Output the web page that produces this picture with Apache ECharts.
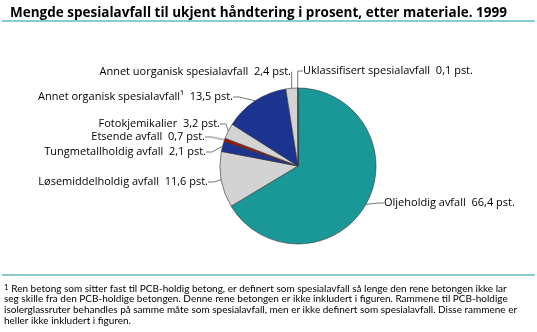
<!DOCTYPE html>
<html><head><meta charset="utf-8">
<script src="https://cdn.jsdelivr.net/npm/echarts@6/dist/echarts.min.js"></script>
<style>html,body{margin:0;padding:0;background:#fff}#c{width:537px;height:332px}</style>
</head><body><div id="c"></div>
<script>
const categories = ["Oljeholdig avfall","Løsemiddelholdig avfall","Tungmetallholdig avfall","Etsende avfall","Fotokjemikalier","Annet organisk spesialavfall¹","Annet uorganisk spesialavfall","Uklassifisert spesialavfall"];
const values = [66.4, 11.6, 2.1, 0.7, 3.2, 13.5, 2.4, 0.1];
const valueLabels = ["66,4","11,6","2,1","0,7","3,2","13,5","2,4","0,1"];
const colors = ["#1a9797","#d3d3d3","#1c3390","#a3140f","#d3d3d3","#1c3390","#d3d3d3","#d3d3d3"];
// label anchor positions (layout only)
const labelPos = [[384,203,'left'],[208,182,'right'],[206,152,'right'],[205,137,'right'],[220,124,'right'],[233,97,'right'],[291,72,'right'],[303,71,'left']];

const FONT = '"Open Sans", sans-serif';
const FFONT = 'Lato, sans-serif';
const chart = echarts.init(document.getElementById('c'), null, {renderer:'canvas'});
chart.setOption({
  animation:false,
  title:{text:'Mengde spesialavfall til ukjent håndtering i prosent, etter materiale. 1999', left:5, top:1,
    textStyle:{fontFamily:FONT,fontSize:13.5,fontWeight:'bold',color:'#000'}},
  graphic:[
    {type:'line',shape:{x1:2,y1:21,x2:535,y2:21},style:{stroke:'#5bbcc3',lineWidth:1.5}},
    {type:'line',shape:{x1:2,y1:275,x2:535,y2:275},style:{stroke:'#1a9797',lineWidth:1}},
    {type:'text',left:4,top:283,style:{
      text:'{s|1} Ren betong som sitter fast til PCB-holdig betong, er definert som spesialavfall så lenge den rene betongen ikke lar\nseg skille fra den PCB-holdige betongen. Denne rene betongen er ikke inkludert i figuren. Rammene til PCB-holdige\nisolerglassruter behandles på samme måte som spesialavfall, men er ikke definert som spesialavfall. Disse rammene er\nheller ikke inkludert i figuren.',
      fontFamily:FFONT,fontSize:10,lineHeight:10.7,fill:'#000',
      rich:{s:{fontSize:8,verticalAlign:'top',fontFamily:FFONT,fill:'#000',lineHeight:10.7}}}}
  ],
  series:[{
    type:'pie', center:[298,166], radius:[0,78], startAngle:90, clockwise:true,
    data: categories.map((n,i)=>({name:n,value:values[i],itemStyle:{color:colors[i]},
      labelLine:{lineStyle:{color: i===3 ? '#bbbbbb' : '#555', width: i===3 ? 2 : 0.8}}})),
    itemStyle:{borderColor:'#333',borderWidth:0.6},
    label:{show:true, formatter:p=>p.name+'  '+valueLabels[p.dataIndex]+' pst.', fontFamily:FONT, fontSize:11, color:'#000'},
    labelLine:{show:true,length:6,length2:6},
    labelLayout:function(p){const a=labelPos[p.dataIndex];return {x:a[0],y:a[1],align:a[2],verticalAlign:'middle'};}
  }]
});
</script></body></html>
